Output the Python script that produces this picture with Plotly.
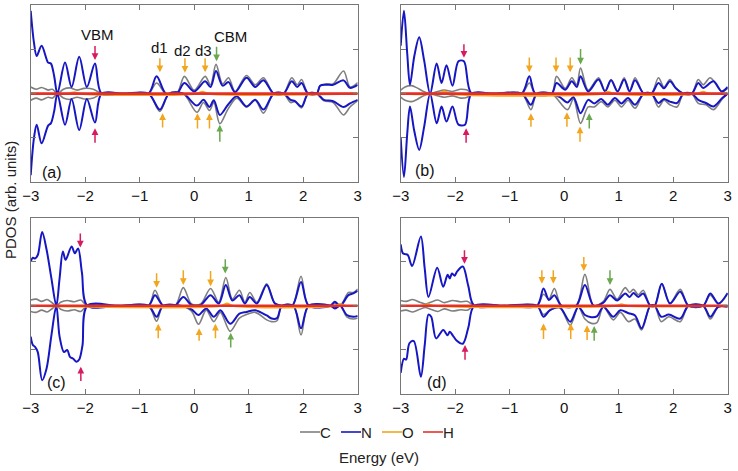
import plotly.graph_objects as go

# ---------------- data (energy eV, PDOS arb.) ----------------
# Panel (a)
a_N_up = [(-3.00, 1.87), (-2.94, 1.15), (-2.89, 0.85), (-2.80, 1.08), (-2.68, 0.70), (-2.63, 0.68), (-2.57, 0.40),
          (-2.51, 0), (-2.37, 0.70), (-2.25, 0.15), (-2.11, 0.83), (-1.97, 0.15), (-1.82, 0.68), (-1.70, 0), (-1.30, 0),
          (-0.84, 0), (-0.69, 0.39), (-0.52, 0), (-0.32, 0), (-0.18, 0.24), (0.00, 0.05), (0.20, 0.28), (0.30, 0.15),
          (0.40, 0.51), (0.52, 0.18), (0.63, 0.26), (0.75, 0.03), (0.96, 0.36), (1.12, 0.15), (1.27, 0.30), (1.46, 0),
          (1.64, 0), (1.79, 0.28), (1.89, 0.15), (1.97, 0.24), (2.09, 0), (2.25, 0), (2.31, 0.18), (2.43, 0.20),
          (2.55, 0.20), (2.74, 0.30), (2.86, 0.13), (3.00, 0.20)]
a_N_dn = [(-3.00, -1.84), (-2.94, -1.00), (-2.89, -0.70), (-2.80, -1.12), (-2.68, -0.72), (-2.63, -0.67), (-2.57, -0.40),
          (-2.51, 0), (-2.37, -0.70), (-2.25, -0.12), (-2.11, -0.82), (-1.97, -0.12), (-1.82, -0.65), (-1.70, 0), (-1.30, 0),
          (-0.84, 0), (-0.63, -0.36), (-0.46, 0), (-0.20, 0), (0.05, -0.27), (0.17, -0.14), (0.28, -0.30), (0.36, -0.15),
          (0.47, -0.48), (0.62, -0.25), (0.78, -0.06), (0.96, -0.29), (1.12, -0.14), (1.27, -0.36), (1.46, 0), (1.64, 0),
          (1.77, -0.14), (1.85, -0.17), (1.97, -0.29), (2.09, 0), (2.25, 0), (2.38, -0.14), (2.55, -0.17), (2.74, -0.30),
          (2.86, -0.22), (3.00, -0.14)]
a_C_up = [(-3.00, 0.15), (-2.90, 0.10), (-2.80, 0.14), (-2.68, 0.08), (-2.60, 0.10), (-2.51, 0), (-2.40, 0.10),
          (-2.28, 0.13), (-2.15, 0.08), (-2.02, 0.12), (-1.85, 0.10), (-1.70, 0), (-1.30, 0), (-0.84, 0), (-0.69, 0.24),
          (-0.52, 0), (-0.32, 0), (-0.18, 0.39), (0.00, 0.08), (0.20, 0.39), (0.30, 0.20), (0.40, 0.66), (0.52, 0.22),
          (0.63, 0.36), (0.75, 0.05), (0.96, 0.41), (1.12, 0.20), (1.27, 0.36), (1.46, 0), (1.64, 0), (1.79, 0.36),
          (1.89, 0.20), (1.97, 0.32), (2.09, 0), (2.25, 0), (2.31, 0.18), (2.43, 0.22), (2.55, 0.22), (2.74, 0.51),
          (2.86, 0.15), (3.00, 0.25)]
a_C_dn = [(-3.00, -0.15), (-2.90, -0.10), (-2.80, -0.14), (-2.68, -0.08), (-2.60, -0.10), (-2.51, 0), (-2.40, -0.10),
          (-2.28, -0.13), (-2.15, -0.08), (-2.02, -0.12), (-1.85, -0.10), (-1.70, 0), (-1.30, 0), (-0.84, 0),
          (-0.63, -0.40), (-0.46, 0), (-0.20, 0), (0.05, -0.42), (0.17, -0.20), (0.28, -0.38), (0.36, -0.20),
          (0.47, -0.68), (0.62, -0.35), (0.78, -0.10), (0.96, -0.30), (1.12, -0.15), (1.27, -0.44), (1.46, 0), (1.64, 0),
          (1.77, -0.20), (1.85, -0.18), (1.97, -0.32), (2.09, 0), (2.25, 0), (2.38, -0.16), (2.55, -0.20), (2.74, -0.48),
          (2.86, -0.30), (3.00, -0.16)]
a_O = [(-3.00, 0), (-2.30, 0), (-2.20, 0.03), (-2.10, 0), (0.05, 0), (0.15, 0.04), (0.25, 0), (3.00, 0)]
a_arrows = [(-1.82, 0.76, 1.11, "H"), (-1.82, -0.78, -1.14, "H"), (-0.63, 0.48, 0.83, "O"), (-0.17, 0.47, 0.83, "O"),
            (0.20, 0.48, 0.83, "O"), (0.41, 0.73, 1.09, "G"), (-0.58, -0.44, -0.80, "O"), (0.06, -0.44, -0.82, "O"),
            (0.28, -0.44, -0.82, "O"), (0.47, -0.70, -1.12, "G")]
a_texts = [("VBM", -1.78, 1.34), ("d1", -0.64, 1.04), ("d2", -0.21, 0.98), ("d3", 0.17, 0.98), ("CBM", 0.66, 1.30),
           ("(a)", -2.61, -1.77)]

# Panel (b)
b_N_up = [(-3.00, 1.08), (-2.94, 1.87), (-2.88, 0.90), (-2.83, 0.20), (-2.75, 0.85), (-2.66, 1.27), (-2.57, 0.75),
          (-2.46, 0), (-2.34, 0.68), (-2.25, 0.24), (-2.16, 0.64), (-2.05, 0.18), (-1.94, 0.73), (-1.84, 0.73), (-1.70, 0),
          (-1.30, 0), (-0.78, 0), (-0.64, 0.39), (-0.53, 0), (-0.23, 0), (-0.14, 0.24), (0.02, 0.09), (0.14, 0.28),
          (0.23, 0.15), (0.30, 0.39), (0.44, 0.05), (0.63, 0.32), (0.75, 0.05), (0.86, 0.30), (0.98, 0.05), (1.10, 0.32),
          (1.20, 0.05), (1.30, 0.30), (1.46, 0), (1.60, 0), (1.73, 0.24), (1.83, 0.12), (1.94, 0.28), (2.05, 0.12),
          (2.19, 0), (2.34, 0), (2.46, 0.24), (2.55, 0.13), (2.74, 0.28), (2.89, 0.05), (3.00, 0.15)]
b_N_dn = [(-3.00, -1.00), (-2.94, -1.88), (-2.88, -0.90), (-2.83, -0.29), (-2.75, -0.85), (-2.66, -1.27), (-2.57, -0.75),
          (-2.46, 0), (-2.34, -0.67), (-2.25, -0.29), (-2.16, -0.63), (-2.05, -0.29), (-1.94, -0.70), (-1.82, -0.70),
          (-1.70, 0), (-1.30, 0), (-0.78, 0), (-0.61, -0.25), (-0.50, 0), (-0.23, 0), (-0.08, -0.08), (0.06, -0.20),
          (0.17, -0.08), (0.30, -0.44), (0.44, -0.14), (0.55, -0.22), (0.68, -0.12), (0.80, -0.25), (0.93, -0.10),
          (1.05, -0.22), (1.17, -0.10), (1.30, -0.25), (1.46, 0), (1.60, 0), (1.73, -0.21), (1.83, -0.12), (1.94, -0.18),
          (2.07, -0.21), (2.19, 0), (2.34, 0), (2.46, -0.14), (2.60, -0.21), (2.74, -0.29), (2.90, -0.10), (3.00, 0)]
b_C_up = [(-3.00, 0.08), (-2.92, 0.15), (-2.80, 0.18), (-2.70, 0.13), (-2.60, 0.06), (-2.46, 0), (-2.34, 0.04),
          (-2.20, 0.08), (-2.05, 0.05), (-1.90, 0.10), (-1.78, 0.08), (-1.70, 0), (-1.30, 0), (-0.78, 0), (-0.64, 0.24),
          (-0.53, 0), (-0.23, 0), (-0.14, 0.39), (0.02, 0.12), (0.14, 0.36), (0.23, 0.20), (0.30, 0.58), (0.44, 0.08),
          (0.63, 0.36), (0.75, 0.06), (0.86, 0.32), (0.98, 0.06), (1.10, 0.36), (1.20, 0.06), (1.30, 0.36), (1.46, 0),
          (1.60, 0), (1.73, 0.36), (1.83, 0.15), (1.94, 0.32), (2.05, 0.12), (2.19, 0), (2.34, 0), (2.46, 0.32),
          (2.55, 0.20), (2.68, 0.36), (2.89, 0.05), (3.00, 0.12)]
b_C_dn = [(-3.00, -0.08), (-2.92, -0.15), (-2.80, -0.18), (-2.70, -0.13), (-2.60, -0.06), (-2.46, 0), (-2.34, -0.04),
          (-2.20, -0.08), (-2.05, -0.05), (-1.90, -0.10), (-1.78, -0.08), (-1.70, 0), (-1.30, 0), (-0.78, 0),
          (-0.61, -0.36), (-0.50, 0), (-0.23, 0), (0.06, -0.36), (0.17, -0.12), (0.30, -0.67), (0.44, -0.30),
          (0.55, -0.30), (0.68, -0.18), (0.80, -0.30), (0.93, -0.15), (1.05, -0.30), (1.17, -0.15), (1.30, -0.33),
          (1.46, 0), (1.60, 0), (1.73, -0.30), (1.83, -0.15), (1.94, -0.25), (2.07, -0.30), (2.19, 0), (2.34, 0),
          (2.46, -0.22), (2.60, -0.25), (2.74, -0.36), (2.90, -0.12), (3.00, 0)]
b_O = [(-3.00, 0), (-2.30, 0), (-2.20, 0.05), (-2.10, 0), (0.70, 0), (0.80, 0.04), (0.90, 0), (2.45, 0), (2.55, 0.04),
       (2.65, 0), (3.00, 0)]
b_arrows = [(-1.84, 0.81, 1.15, "H"), (-1.80, -0.78, -1.14, "H"), (-0.64, 0.48, 0.85, "O"), (-0.15, 0.48, 0.85, "O"),
            (0.11, 0.48, 0.85, "O"), (0.30, 0.66, 1.04, "G"), (-0.61, -0.44, -0.78, "O"), (0.05, -0.42, -0.78, "O"),
            (0.29, -0.74, -1.12, "O"), (0.46, -0.44, -0.82, "G")]
b_texts = [("(b)", -2.55, -1.74)]

# Panel (c)
c_N_up = [(-3.00, 1.00), (-2.96, 1.09), (-2.92, 1.07), (-2.87, 1.15), (-2.79, 1.67), (-2.71, 1.28), (-2.62, 0.62),
          (-2.53, 0), (-2.47, 0.62), (-2.41, 1.23), (-2.36, 1.04), (-2.25, 1.34), (-2.19, 1.19), (-2.13, 1.30),
          (-2.06, 0.75), (-1.96, 0), (-1.40, 0), (-0.84, 0), (-0.72, 0.24), (-0.57, 0), (-0.35, 0), (-0.20, 0.20),
          (-0.05, 0.02), (0.12, 0.02), (0.30, 0.24), (0.45, 0.05), (0.58, 0.47), (0.70, 0.12), (0.83, 0.24),
          (0.93, 0.05), (1.02, 0.20), (1.15, 0.05), (1.33, 0.47), (1.48, 0.05), (1.61, 0), (1.80, 0), (1.96, 0.54),
          (2.10, 0), (2.50, 0), (2.58, 0.09), (2.68, 0), (2.83, 0.24), (2.92, 0.28), (3.00, 0.34)]
c_N_dn = [(-3.00, -0.70), (-2.96, -0.89), (-2.92, -0.93), (-2.87, -1.05), (-2.79, -1.69), (-2.71, -1.43),
          (-2.62, -0.67), (-2.53, 0), (-2.47, -0.70), (-2.39, -1.05), (-2.33, -1.00), (-2.28, -1.16), (-2.22, -1.20),
          (-2.16, -1.27), (-2.11, -1.22), (-2.05, -0.90), (-1.96, 0), (-1.40, 0), (-0.84, 0), (-0.69, -0.25),
          (-0.57, 0), (-0.25, 0), (-0.05, -0.08), (0.08, -0.21), (0.22, -0.06), (0.36, -0.25), (0.48, -0.10),
          (0.66, -0.41), (0.83, -0.18), (0.96, -0.14), (1.12, -0.10), (1.33, -0.22), (1.42, -0.29), (1.52, -0.28),
          (1.61, 0), (1.82, 0), (1.96, -0.51), (2.10, 0), (2.50, 0), (2.58, -0.06), (2.68, 0), (2.80, -0.21),
          (2.92, -0.25), (3.00, -0.23)]
c_C_up = [(-3.00, 0.13), (-2.90, 0.15), (-2.80, 0.10), (-2.70, 0.14), (-2.62, 0.08), (-2.53, 0), (-2.45, 0.08),
          (-2.33, 0.12), (-2.20, 0.09), (-2.08, 0.13), (-2.02, 0.06), (-1.96, 0), (-1.40, 0), (-0.84, 0), (-0.72, 0.35),
          (-0.57, 0), (-0.35, 0), (-0.20, 0.41), (-0.05, 0.04), (0.12, 0.04), (0.30, 0.39), (0.45, 0.08), (0.58, 0.64),
          (0.70, 0.15), (0.83, 0.35), (0.93, 0.08), (1.02, 0.30), (1.15, 0.08), (1.33, 0.50), (1.48, 0.06), (1.61, 0),
          (1.80, 0), (1.96, 0.67), (2.10, 0), (2.50, 0), (2.58, 0.06), (2.68, 0), (2.83, 0.30), (2.92, 0.30),
          (3.00, 0.38)]
c_C_dn = [(-3.00, -0.13), (-2.90, -0.15), (-2.80, -0.10), (-2.70, -0.14), (-2.62, -0.08), (-2.53, 0), (-2.45, -0.08),
          (-2.33, -0.12), (-2.20, -0.09), (-2.08, -0.13), (-2.02, -0.06), (-1.96, 0), (-1.40, 0), (-0.84, 0),
          (-0.69, -0.35), (-0.57, 0), (-0.25, 0), (-0.05, -0.12), (0.08, -0.42), (0.22, -0.10), (0.36, -0.36),
          (0.48, -0.15), (0.66, -0.58), (0.83, -0.28), (0.96, -0.20), (1.12, -0.15), (1.33, -0.32), (1.42, -0.36),
          (1.52, -0.34), (1.61, 0), (1.82, 0), (1.96, -0.66), (2.10, 0), (2.50, 0), (2.58, -0.05), (2.68, 0),
          (2.80, -0.25), (2.92, -0.30), (3.00, -0.28)]
c_O = [(-3.00, 0), (0.50, 0), (0.60, 0.05), (0.70, 0), (2.60, 0), (2.68, 0.04), (2.76, 0), (3.00, 0)]
c_arrows = [(-2.09, 1.32, 1.67, "H"), (-2.08, -1.38, -1.74, "H"), (-0.69, 0.41, 0.77, "O"), (-0.20, 0.47, 0.84, "O"),
            (0.30, 0.44, 0.82, "O"), (0.57, 0.73, 1.09, "G"), (-0.66, -0.41, -0.77, "O"), (0.09, -0.51, -0.83, "O"),
            (0.39, -0.41, -0.77, "O"), (0.67, -0.61, -0.98, "G")]
c_texts = [("(c)", -2.52, -1.74)]

# Panel (d)
d_N_up = [(-3.00, 1.39), (-2.96, 1.19), (-2.92, 1.17), (-2.87, 1.15), (-2.79, 0.90), (-2.63, 1.57), (-2.56, 0.85),
          (-2.49, 0.20), (-2.33, 0.86), (-2.22, 0.43), (-2.14, 0.70), (-2.10, 0.62), (-2.06, 0.73), (-2.01, 0.68),
          (-1.97, 0.77), (-1.86, 0.89), (-1.76, 0.45), (-1.65, 0), (-1.10, 0), (-0.50, 0), (-0.38, 0.39), (-0.28, 0.13),
          (-0.18, 0.24), (-0.05, 0), (0.22, 0), (0.38, 0.47), (0.54, 0), (0.72, 0.07), (0.84, 0.24), (0.97, 0.12),
          (1.12, 0.28), (1.20, 0.20), (1.27, 0.29), (1.36, 0.20), (1.45, 0.28), (1.58, 0), (1.66, 0), (1.79, 0.50),
          (1.94, 0.05), (2.13, 0.32), (2.28, 0), (2.55, 0), (2.68, 0.28), (2.83, 0.05), (3.00, 0.29)]
d_N_dn = [(-3.00, -1.52), (-2.94, -1.20), (-2.90, -1.22), (-2.84, -0.85), (-2.76, -0.80), (-2.63, -1.61),
          (-2.56, -0.90), (-2.49, -0.20), (-2.44, -0.25), (-2.35, -0.74), (-2.22, -0.55), (-2.14, -0.67),
          (-2.10, -0.59), (-2.04, -0.68), (-1.98, -0.78), (-1.86, -0.86), (-1.76, -0.50), (-1.65, 0), (-1.10, 0),
          (-0.50, 0), (-0.38, -0.25), (-0.26, -0.10), (-0.08, -0.04), (0.11, -0.36), (0.26, -0.02), (0.38, -0.21),
          (0.50, -0.26), (0.60, -0.24), (0.72, -0.02), (0.90, -0.25), (1.03, -0.10), (1.18, -0.17), (1.30, -0.22),
          (1.42, -0.51), (1.58, 0), (1.66, 0), (1.78, -0.25), (1.92, -0.20), (2.13, -0.29), (2.28, 0), (2.55, 0),
          (2.68, -0.25), (2.83, -0.02), (3.00, -0.02)]
d_C_up = [(-3.00, 0.12), (-2.90, 0.10), (-2.78, 0.14), (-2.65, 0.08), (-2.55, 0.04), (-2.45, 0.08), (-2.32, 0.13),
          (-2.20, 0.07), (-2.05, 0.12), (-1.90, 0.09), (-1.78, 0.10), (-1.65, 0), (-1.10, 0), (-0.50, 0), (-0.38, 0.26),
          (-0.28, 0.15), (-0.18, 0.39), (-0.05, 0), (0.22, 0), (0.38, 0.71), (0.54, 0), (0.72, 0.10), (0.84, 0.37),
          (0.97, 0.15), (1.12, 0.41), (1.20, 0.30), (1.27, 0.37), (1.36, 0.25), (1.45, 0.35), (1.58, 0), (1.66, 0),
          (1.79, 0.50), (1.94, 0.06), (2.13, 0.37), (2.28, 0), (2.55, 0), (2.68, 0.24), (2.83, 0.04), (3.00, 0.28)]
d_C_dn = [(-3.00, -0.12), (-2.90, -0.10), (-2.78, -0.14), (-2.65, -0.08), (-2.55, -0.04), (-2.45, -0.08),
          (-2.32, -0.13), (-2.20, -0.07), (-2.05, -0.12), (-1.90, -0.09), (-1.78, -0.10), (-1.65, 0), (-1.10, 0),
          (-0.50, 0), (-0.38, -0.20), (-0.26, -0.10), (-0.08, -0.04), (0.11, -0.44), (0.26, -0.03), (0.38, -0.30),
          (0.50, -0.40), (0.60, -0.38), (0.72, -0.03), (0.90, -0.32), (1.03, -0.15), (1.18, -0.36), (1.30, -0.30),
          (1.42, -0.55), (1.58, 0), (1.66, 0), (1.78, -0.36), (1.92, -0.25), (2.13, -0.36), (2.28, 0), (2.55, 0),
          (2.68, -0.30), (2.83, -0.03), (3.00, -0.03)]
d_O = [(-3.00, 0), (-2.60, 0), (-2.50, 0.03), (-2.40, 0), (0.95, 0), (1.05, 0.03), (1.15, 0), (3.00, 0)]
d_arrows = [(-1.83, 0.95, 1.29, "H"), (-1.82, -0.89, -1.26, "H"), (-0.41, 0.50, 0.84, "O"), (-0.20, 0.50, 0.84, "O"),
            (0.36, 0.79, 1.14, "O"), (0.84, 0.47, 0.84, "G"), (-0.38, -0.40, -0.79, "O"), (0.12, -0.40, -0.79, "O"),
            (0.42, -0.44, -0.81, "O"), (0.55, -0.46, -0.83, "G")]
d_texts = [("(d)", -2.34, -1.74)]

H_line = [(-3.00, 0), (3.00, 0)]
x_ticks = [-3, -2, -1, 0, 1, 2, 3]
y_ticks = [-1, 0, 1]
species = ["C", "N", "O", "H"]

# ---------------- styling ----------------
col = {"C": "#7f7f7f", "N": "#1616c4", "O": "#f2a51e", "H": "#e5302a"}
arrow_col = {"H": "#d81b60", "O": "#f2a51e", "G": "#6aa84f"}
width = {"C": 1.6, "N": 2.0, "O": 2.2, "H": 2.6}
FONT = "Liberation Sans, Arial, Helvetica, sans-serif"

# figure geometry (pixels)
W, H = 738, 471
ML, MR, MT, MB = 30, 10, 4, 76
PW, PH = W - ML - MR, H - MT - MB


def px_x(p):
    return (p - ML) / PW


def px_y(p):
    return (H - MB - p) / PH


def unzip(pairs):
    return [p[0] for p in pairs], [p[1] for p in pairs]


panels = [
    ("x", "y", a_C_up, a_C_dn, a_N_up, a_N_dn, a_O, a_arrows, a_texts),
    ("x2", "y2", b_C_up, b_C_dn, b_N_up, b_N_dn, b_O, b_arrows, b_texts),
    ("x3", "y3", c_C_up, c_C_dn, c_N_up, c_N_dn, c_O, c_arrows, c_texts),
    ("x4", "y4", d_C_up, d_C_dn, d_N_up, d_N_dn, d_O, d_arrows, d_texts),
]

fig = go.Figure()
annotations = []
shapes = []
for pi, (xa, ya, cu, cd, nu, nd, o, arrows, texts) in enumerate(panels):
    curves = [("C", cu), ("C", cd), ("N", nu), ("N", nd), ("O", o), ("H", H_line)]
    for sp, pts in curves:
        xs, ys = unzip(pts)
        fig.add_trace(go.Scatter(
            x=xs, y=ys, xaxis=xa, yaxis=ya, mode="lines",
            line=dict(color=col[sp], width=width[sp], shape="spline", smoothing=0.9),
            name=sp, legendgroup=sp, showlegend=False, hoverinfo="skip"))
    for (ex, yt, yb, k) in arrows:
        annotations.append(dict(
            x=ex, y=yt, ax=ex, ay=yb, xref=xa, yref=ya, axref=xa, ayref=ya,
            text="", showarrow=True, arrowhead=2, arrowsize=0.9, arrowwidth=1.5,
            arrowcolor=arrow_col[k], standoff=0))
    for (t, ex, ey) in texts:
        annotations.append(dict(
            x=ex, y=ey, xref=xa, yref=ya, text=t, showarrow=False,
            font=dict(size=16 if t.startswith("(") else 15, color="#111111", family=FONT)))

# legend drawn below the panels: short line sample followed by the species name
leg_line_px = [(300, 320), (341, 361), (382, 402), (423, 443)]
leg_y = px_y(432)
for sp, (x0, x1) in zip(species, leg_line_px):
    shapes.append(dict(type="line", xref="paper", yref="paper", x0=px_x(x0), x1=px_x(x1), y0=leg_y, y1=leg_y,
                       line=dict(color=col[sp], width=1.6)))
    annotations.append(dict(text=sp, x=px_x(x1), y=leg_y, xref="paper", yref="paper", showarrow=False,
                            xanchor="left", yanchor="middle", xshift=-2,
                            font=dict(size=15, color="#222222", family=FONT)))

annotations.append(dict(text="Energy (eV)", x=px_x(379), y=px_y(457), xref="paper", yref="paper",
                        showarrow=False, xanchor="center", yanchor="middle",
                        font=dict(size=15, color="#222222", family=FONT)))
annotations.append(dict(text="PDOS (arb. units)", x=px_x(10), y=px_y(200), xref="paper", yref="paper",
                        showarrow=False, textangle=-90, xanchor="center", yanchor="middle",
                        font=dict(size=15, color="#222222", family=FONT)))

axis_common_x = dict(range=[-3, 3], tickvals=x_ticks, ticks="inside", ticklen=5, tickcolor="#777777",
                     showline=True, linecolor="#777777", linewidth=1, mirror="ticks", showgrid=False,
                     zeroline=False, tickfont=dict(size=15, color="#111111", family=FONT),
                     ticklabeloverflow="allow")
axis_common_y = dict(range=[-2, 2], tickvals=y_ticks, ticks="inside", ticklen=5, tickcolor="#777777",
                     showline=True, linecolor="#777777", linewidth=1, mirror="ticks", showgrid=False,
                     zeroline=False, showticklabels=False)

xl = [px_x(30.7), px_x(357.7)]
xr = [px_x(400.7), px_x(727.7)]
yt = [px_y(182.3), px_y(5)]
yb = [px_y(394), px_y(217.5)]

fig.update_layout(
    width=W, height=H,
    margin=dict(l=ML, r=MR, t=MT, b=MB),
    plot_bgcolor="white", paper_bgcolor="white",
    font=dict(family=FONT),
    xaxis=dict(axis_common_x, domain=xl, anchor="y"),
    yaxis=dict(axis_common_y, domain=yt, anchor="x"),
    xaxis2=dict(axis_common_x, domain=xr, anchor="y2"),
    yaxis2=dict(axis_common_y, domain=yt, anchor="x2"),
    xaxis3=dict(axis_common_x, domain=xl, anchor="y3"),
    yaxis3=dict(axis_common_y, domain=yb, anchor="x3"),
    xaxis4=dict(axis_common_x, domain=xr, anchor="y4"),
    yaxis4=dict(axis_common_y, domain=yb, anchor="x4"),
    annotations=annotations,
    shapes=shapes,
    showlegend=False,
)

fig.write_html("out.html", config={"displayModeBar": False},
               post_script="document.body.style.margin='0px';document.body.style.overflow='hidden';")
